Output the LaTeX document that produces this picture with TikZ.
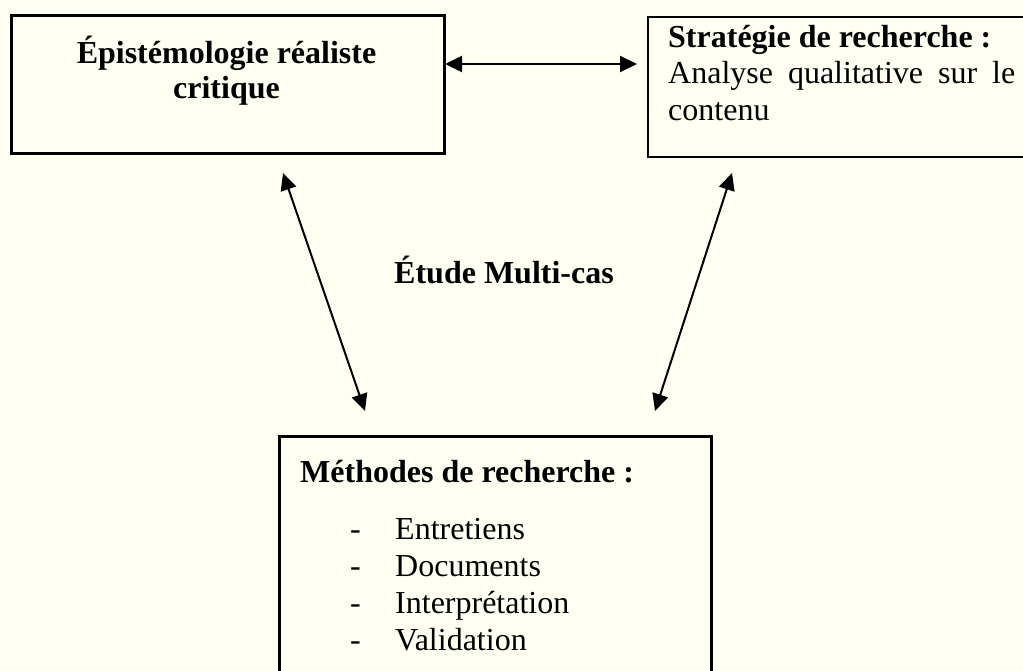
\documentclass[tikz,border=0pt]{standalone}
\usepackage{fontspec}
\setmainfont{Liberation Serif}
\usetikzlibrary{arrows.meta}
\definecolor{paper}{RGB}{255,255,242}
\tikzset{box/.style={draw, fill=none, inner sep=0pt, anchor=north west}}
\tikzset{lbl/.style={inner sep=0pt, anchor=base west, font=\fontsize{32}{36.5}\selectfont}}
\tikzset{lblbf/.style={lbl, font=\fontsize{32}{35}\selectfont\bfseries}}
\tikzset{dblarrow/.style={{Triangle[length=17pt,width=16pt]}-{Triangle[length=17pt,width=16pt]}, line width=2pt}}

\begin{document}
\begin{tikzpicture}[x=1pt,y=-1pt]
\useasboundingbox (0,0) rectangle (1023,670);
\fill[paper] (0,0) rectangle (1023,670);
\clip (0,0) rectangle (1023,670);

% the three boxes
\node[box, line width=3pt, minimum width=433pt, minimum height=138pt] (epist) at (10,14) {};
\node[box, line width=1.5pt, minimum width=400pt, minimum height=140pt] (strat) at (647,16) {};
\node[box, line width=2.5pt, minimum width=432pt, minimum height=260pt] (meth) at (278,435) {};

\node[lblbf, anchor=base] (epistlbl) at (226.5,63) {Épistémologie réaliste};
\node[lblbf, anchor=base] (epistlbl2) at (226.5,98) {critique};

\node[lblbf] (stratlbl) at (668,47) {Stratégie de recherche :};
\node[lbl] (strat1) at (668,83) {\hbox to 347pt{Analyse\hfill qualitative\hfill sur\hfill le}};
\node[lbl] (strat2) at (668,120) {contenu};

\node[lblbf] (methlbl) at (300,482) {Méthodes de recherche :};
\node[lbl] (dash1) at (350,539) {-}; \node[lbl] (item1) at (395,539) {Entretiens};
\node[lbl] (dash2) at (350,576) {-}; \node[lbl] (item2) at (395,576) {Documents};
\node[lbl] (dash3) at (350,613) {-}; \node[lbl] (item3) at (395,613) {Interprétation};
\node[lbl] (dash4) at (350,650) {-}; \node[lbl] (item4) at (395,650) {Validation};

\node[lblbf, anchor=base] (etude) at (504,283) {Étude Multi-cas};

% arrows between the boxes
\coordinate (h1) at (445,64); \coordinate (h2) at (637,64);
\coordinate (l1) at (283,173); \coordinate (l2) at (365,411);
\coordinate (r1) at (732,173); \coordinate (r2) at (655,411);
\draw[dblarrow] (h1) -- (h2);
\draw[dblarrow] (l1) -- (l2);
\draw[dblarrow] (r1) -- (r2);

\end{tikzpicture}
\end{document}
